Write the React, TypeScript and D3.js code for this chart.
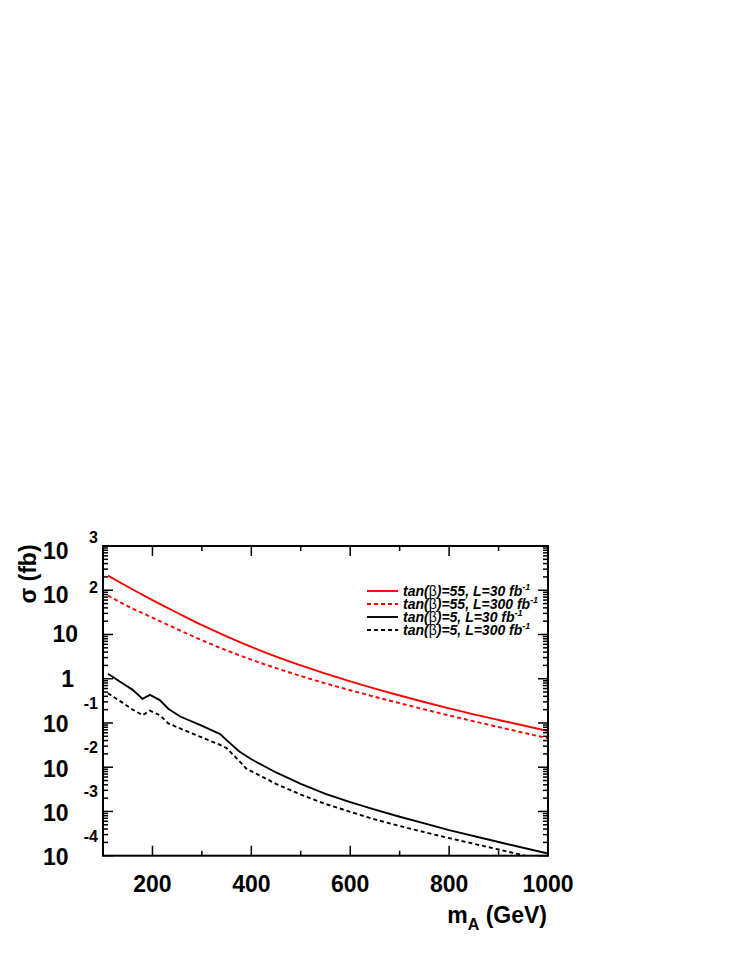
import React, { useEffect, useRef } from "react";
import * as d3 from "d3";

// tan(beta)=55 curves (red)
const massRed = [110, 150, 200, 250, 300, 350, 400, 450, 500, 600, 700, 800, 900, 1000];
const sigRed30 = [214, 120, 60, 31, 16.2, 9.1, 5.25, 3.16, 2.0, 0.87, 0.417, 0.214, 0.117, 0.066];
const sigRed300 = [76, 43.6, 24, 13.2, 7.4, 4.37, 2.69, 1.74, 1.15, 0.55, 0.28, 0.148, 0.081, 0.045];

// tan(beta)=5 curves (black)
const massBlk30 = [110, 140, 160, 180, 195, 215, 232, 256, 296, 337, 350, 375, 400, 450, 500, 550, 600, 650, 700, 750, 800, 900, 1000];
const sigBlk30 = [1.3, 0.78, 0.56, 0.35, 0.43, 0.33, 0.21, 0.14, 0.09, 0.056, 0.041, 0.023, 0.0151, 0.0076, 0.0042, 0.0025, 0.00162, 0.0011, 0.00076, 0.00054, 0.00038, 0.000204, 0.000112];
const massBlk300 = [110, 140, 160, 180, 195, 215, 232, 260, 300, 337, 350, 375, 390, 450, 500, 550, 600, 650, 700, 750, 800, 900, 1000];
const sigBlk300 = [0.47, 0.285, 0.2, 0.15, 0.19, 0.15, 0.098, 0.072, 0.047, 0.032, 0.027, 0.014, 0.0093, 0.0042, 0.0024, 0.00148, 0.00098, 0.00066, 0.00047, 0.00034, 0.00025, 0.000138, 0.000076];

const legendLabels = ["tan(β)=55, L=30 fb", "tan(β)=55, L=300 fb", "tan(β)=5, L=30 fb", "tan(β)=5, L=300 fb"];
const xTicks = [200, 400, 600, 800, 1000];
const yExponents = [3, 2, 1, 0, -1, -2, -3, -4];

const FONT = "'Liberation Sans', Arial, Helvetica, sans-serif";

const App = () => {
  const ref = useRef<SVGSVGElement | null>(null);
  const left = 103, right = 548, top = 546, bottom = 855.7;

  useEffect(() => {
    const svg = d3.select(ref.current);
    svg.selectAll("*").remove();

    const x = d3.scaleLinear().domain([100, 1000]).range([left, right]);
    const y = d3.scaleLog().domain([1e-4, 1e3]).range([bottom, top]);

    svg.append("defs").append("clipPath").attr("id", "plotclip")
      .append("rect").attr("x", left).attr("y", top).attr("width", right - left).attr("height", bottom - top);

    const series = [
      { m: massRed, s: sigRed30, color: "#ff0000", dash: null, curve: d3.curveMonotoneX },
      { m: massRed, s: sigRed300, color: "#ff0000", dash: "4,3", curve: d3.curveMonotoneX },
      { m: massBlk30, s: sigBlk30, color: "#000000", dash: null, curve: d3.curveLinear },
      { m: massBlk300, s: sigBlk300, color: "#000000", dash: "4,3", curve: d3.curveLinear },
    ];

    const g = svg.append("g").attr("clip-path", "url(#plotclip)");
    series.forEach((sr) => {
      const pts = sr.m.map((m, i) => [m, sr.s[i]] as [number, number]);
      const line = d3.line<[number, number]>()
        .x((d) => x(d[0]))
        .y((d) => y(d[1]))
        .curve(sr.curve);
      g.append("path")
        .datum(pts)
        .attr("d", line)
        .attr("fill", "none")
        .attr("stroke", sr.color)
        .attr("stroke-width", 1.9)
        .attr("stroke-dasharray", sr.dash);
    });

    // frame
    svg.append("rect")
      .attr("x", left).attr("y", top)
      .attr("width", right - left).attr("height", bottom - top)
      .attr("fill", "none").attr("stroke", "#000").attr("stroke-width", 2);

    // x ticks (bottom and top)
    const ax = svg.append("g").attr("stroke", "#000").attr("stroke-width", 1.5);
    d3.range(200, 1001, 100).forEach((v) => {
      const len = v % 200 === 0 ? 10 : 5;
      ax.append("line").attr("x1", x(v)).attr("x2", x(v)).attr("y1", bottom).attr("y2", bottom - len);
      ax.append("line").attr("x1", x(v)).attr("x2", x(v)).attr("y1", top).attr("y2", top + len);
    });

    // y ticks (left and right), log minor ticks
    for (let e = -4; e < 3; e++) {
      for (let k = 1; k <= 9; k++) {
        const v = k * Math.pow(10, e);
        const len = k === 1 ? 10 : 5;
        ax.append("line").attr("x1", left).attr("x2", left + len).attr("y1", y(v)).attr("y2", y(v));
        ax.append("line").attr("x1", right).attr("x2", right - len).attr("y1", y(v)).attr("y2", y(v));
      }
    }

    // x tick labels
    svg.append("g").selectAll("text").data(xTicks).enter().append("text")
      .attr("x", (d) => x(d)).attr("y", 892)
      .attr("text-anchor", "middle")
      .attr("font-family", FONT).attr("font-weight", "bold").attr("font-size", 23)
      .text((d) => d);

    // y tick labels in ROOT style
    const yl = svg.append("g").attr("font-family", FONT).attr("font-weight", "bold");
    yExponents.forEach((e) => {
      const ty = y(Math.pow(10, e));
      if (e === 0) {
        yl.append("text").attr("x", 74).attr("y", ty + 8).attr("text-anchor", "end").attr("font-size", 23).text("1");
      } else if (e === 1) {
        yl.append("text").attr("x", 78).attr("y", ty + 8).attr("text-anchor", "end").attr("font-size", 23).text("10");
      } else {
        const baseOff = e > 0 ? 13 : 9.5;
        const expOff = e < 0 ? -14 : e === 3 ? -3 : 3;
        yl.append("text").attr("x", 68.5).attr("y", ty + baseOff).attr("text-anchor", "end").attr("font-size", 23).text("10");
        yl.append("text").attr("x", 98).attr("y", ty + expOff).attr("text-anchor", "end").attr("font-size", 16).text(String(e));
      }
    });

    // axis titles
    svg.append("text")
      .attr("transform", "translate(36,574) rotate(-90)")
      .attr("text-anchor", "middle")
      .attr("font-family", FONT).attr("font-weight", "bold").attr("font-size", 23)
      .text("σ (fb)");

    const xt = svg.append("text")
      .attr("x", 547).attr("y", 923)
      .attr("text-anchor", "end")
      .attr("font-family", FONT).attr("font-weight", "bold").attr("font-size", 23);
    xt.append("tspan").text("m");
    xt.append("tspan").attr("font-size", 16).attr("dy", 7).text("A");
    xt.append("tspan").attr("dy", -7).text(" (GeV)");

    // legend
    const lg = svg.append("g");
    legendLabels.forEach((lab, i) => {
      const ly = 591 + i * 13;
      const sr = series[i];
      lg.append("line")
        .attr("x1", 367).attr("x2", 398).attr("y1", ly).attr("y2", ly)
        .attr("stroke", sr.color).attr("stroke-width", 1.9)
        .attr("stroke-dasharray", sr.dash);
      const t = lg.append("text")
        .attr("x", 403).attr("y", ly + 5)
        .attr("font-family", FONT).attr("font-weight", "bold").attr("font-style", "italic")
        .attr("font-size", 14);
      const [pre, rest] = lab.split("β");
      t.append("tspan").text(pre);
      t.append("tspan").attr("font-style", "normal").attr("font-weight", "normal").text("β");
      t.append("tspan").text(rest);
      t.append("tspan").attr("font-size", 9).attr("dy", -6).text("-1");
    });
  }, []);

  return (
    <svg
      ref={ref}
      width={741}
      height={959}
      style={{ position: "absolute", left: 0, top: 0, background: "#fff" }}
    />
  );
};

export default App;
